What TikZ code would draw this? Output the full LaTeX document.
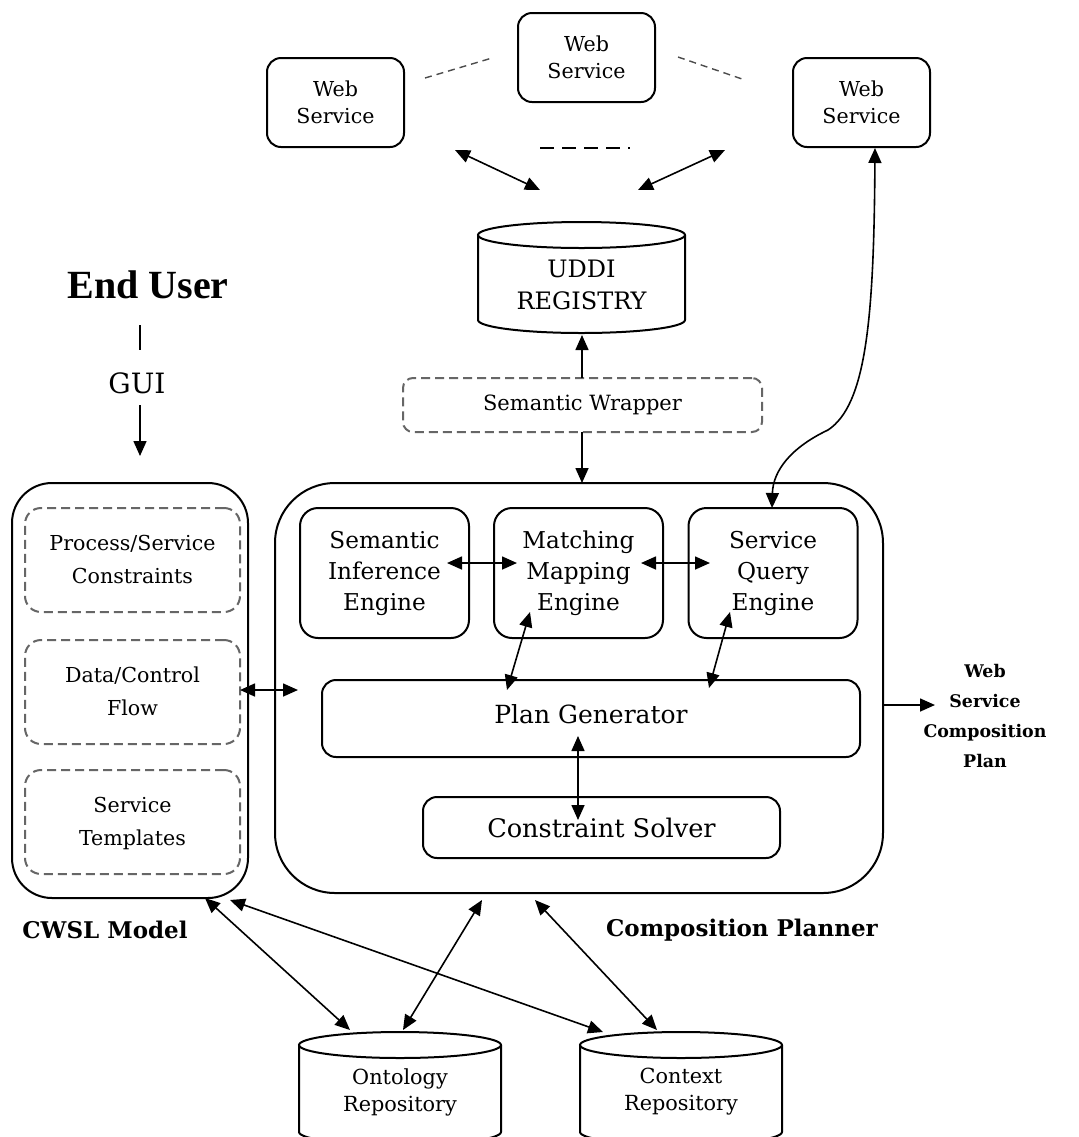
\documentclass[tikz,border=0pt]{standalone}
\usepackage{fontspec}
\setmainfont{DejaVu Serif}
\newfontfamily\timesbold{Liberation Serif}[BoldFont={Liberation Serif Bold}]
\usetikzlibrary{arrows.meta,calc}

% cylinder from its left/top/right/bottom edges, text centred at the given height
% #1 name, #2 left, #3 top, #4 right, #5 bottom, #6 text centre y, #7 font, #8 text
\newcommand\drumnode[8]{%
  \pgfmathsetmacro\drumcx{(#2+#4)/2}%
  \pgfmathsetmacro\drumrx{(#4-#2)/2}%
  \node[drumtext, font=#7] (#1) at (\drumcx,-#6) {#8};
  \draw[line width=1pt] (#2,-#3-13) -- (#2,-#5+13)
     arc[start angle=180,end angle=360,x radius=\drumrx,y radius=13] -- (#4,-#3-13);
  \draw[line width=1pt] (\drumcx,-#3-13) ellipse[x radius=\drumrx,y radius=13];
}
% two centred lines, lifted a little inside their box
\newcommand\liftpair[3]{\raisebox{#1}{\begin{tabular}{@{}c@{}}#2\\#3\end{tabular}}}

\begin{document}
\begin{tikzpicture}[x=0.5pt,y=0.5pt,
  line width=0.8pt,
  tipx/.tip={Triangle[length=7.5pt,width=6.5pt]},
  arr/.style={-tipx},
  darr/.style={tipx-tipx},
  solidbox/.style={draw, line width=1pt, align=center, inner sep=0pt},
  wsbox/.style={solidbox, rounded corners=7pt, minimum width=137*0.5pt, minimum height=89*0.5pt,
     font=\fontsize{10.3}{13.5}\selectfont},
  engine/.style={solidbox, rounded corners=9pt, minimum width=169*0.5pt, minimum height=130*0.5pt,
     font=\fontsize{11.6}{15.5}\selectfont},
  dbox/.style={draw=black!60, line width=1pt, dash pattern=on 4.5pt off 2.5pt, rounded corners=8pt,
     align=center, inner sep=0pt, font=\fontsize{10.3}{16.5}\selectfont},
  drumtext/.style={align=center, inner sep=0pt},
  bigbox/.style={draw, line width=1pt, inner sep=0pt},
  heavy/.style={font=\bfseries\fontsize{11.5}{14}\selectfont}
]
\useasboundingbox[fill=white] (0,0) rectangle (1079,-1137);

% --- web services and registry ---
\node[wsbox] (ws1) at (335.5,-102.5) {Web\\Service};
\node[wsbox] (ws2) at (586.5,-57.5) {Web\\Service};
\node[wsbox] (ws3) at (861.5,-102.5) {Web\\Service};

\coordinate (dl1) at (425,-78);  \coordinate (dl2) at (492,-58);
\coordinate (dr1) at (678,-57);  \coordinate (dr2) at (745,-80);
\coordinate (dm1) at (540,-148); \coordinate (dm2) at (630,-148);
\draw[dash pattern=on 3.5pt off 2.5pt, line width=0.7pt, black!70] (dl1) -- (dl2);
\draw[dash pattern=on 3.5pt off 2.5pt, line width=0.7pt, black!70] (dr1) -- (dr2);
\draw[dash pattern=on 7pt off 4pt, line width=0.8pt] (dm1) -- (dm2);

\coordinate (al1) at (455,-150); \coordinate (al2) at (540,-190);
\coordinate (ar1) at (725,-150); \coordinate (ar2) at (638,-190);
\draw[darr] (al1) -- (al2);
\draw[darr] (ar1) -- (ar2);

\drumnode{uddi}{478}{222}{685}{333}{285}{\fontsize{12}{16}\selectfont}{UDDI\\REGISTRY}

\node[dbox, rounded corners=5pt, minimum width=359*0.5pt, minimum height=54*0.5pt,
      font=\fontsize{10.5}{14}\selectfont] (wrap) at (582.5,-405) {Semantic Wrapper};

% --- end user ---
\node[font=\timesbold\bfseries\fontsize{20}{24}\selectfont] (user) at (148,-285) {End User};
\node[font=\fontsize{14}{16}\selectfont] (gui) at (137,-383) {GUI};
\coordinate (ut1) at (140,-325); \coordinate (ut2) at (140,-350);
\coordinate (ga1) at (140,-405); \coordinate (ga2) at (140,-456);
\draw[line width=0.7pt] (ut1) -- (ut2);
\draw[arr] (ga1) -- (ga2);

% --- CWSL model ---
\node[bigbox, rounded corners=20pt, minimum width=236*0.5pt, minimum height=415*0.5pt] (cwsl) at (130,-690.5) {};
\node[dbox, minimum width=215*0.5pt, minimum height=104*0.5pt] (pc) at (132.5,-560) {\liftpair{3pt}{Process/Service}{Constraints}};
\node[dbox, minimum width=215*0.5pt, minimum height=104*0.5pt] (dc) at (132.5,-692) {\liftpair{3pt}{Data/Control}{Flow}};
\node[dbox, minimum width=215*0.5pt, minimum height=104*0.5pt] (st) at (132.5,-822) {\liftpair{3pt}{Service}{Templates}};
\node[heavy] (cwsllbl) at (105,-930) {CWSL Model};

% --- composition planner ---
\node[bigbox, rounded corners=30pt, minimum width=608*0.5pt, minimum height=410*0.5pt] (planner) at (579,-688) {};
\node[engine] (sie) at (384.5,-573) {Semantic\\Inference\\Engine};
\node[engine] (mme) at (578.5,-573) {Matching\\Mapping\\Engine};
\node[engine] (sqe) at (773,-573) {Service\\Query\\Engine};
\node[solidbox, rounded corners=7pt, minimum width=538*0.5pt, minimum height=77*0.5pt,
      font=\fontsize{12.5}{14}\selectfont] (plan) at (591,-718.5) {\raisebox{5pt}{Plan Generator}};
\node[solidbox, rounded corners=7pt, minimum width=357*0.5pt, minimum height=61*0.5pt,
      font=\fontsize{12.8}{14}\selectfont] (cons) at (601.5,-827.5) {Constraint Solver};
\node[heavy] (complbl) at (742,-930) {Composition Planner};

\node[font=\bfseries\fontsize{8.7}{15}\selectfont, align=center] (out) at (985,-716) {Web\\Service\\Composition\\Plan};

% --- repositories ---
\drumnode{onto}{299}{1032}{501}{1145}{1092}{\fontsize{10.4}{13.5}\selectfont}{Ontology\\Repository}
\drumnode{ctx}{580}{1032}{782}{1145}{1092}{\fontsize{10.4}{13.5}\selectfont}{Context\\Repository}

% --- connectors ---
\coordinate (wrapTop) at (582,-378); \coordinate (uddiBot) at (582,-335);
\draw[arr] (wrapTop) -- (uddiBot);
\coordinate (wrapBot) at (582,-432); \coordinate (planTop) at (582,-483);
\draw[arr] (wrapBot) -- (planTop);

\coordinate (ws3b) at (875,-148); \coordinate (sqet) at (772,-508);
\draw[darr] (ws3b) .. controls (874,-320) and (866,-405) .. (828,-430)
                   .. controls (792,-447) and (773,-470) .. (sqet);

\coordinate (cw1) at (240,-690); \coordinate (cw2) at (298,-690);
\draw[darr] (cw1) -- (cw2);

\coordinate (h1a) at (447,-563); \coordinate (h1b) at (517,-563);
\draw[darr] (h1a) -- (h1b);
\coordinate (h2a) at (641,-563); \coordinate (h2b) at (710,-563);
\draw[darr] (h2a) -- (h2b);

\coordinate (pm1) at (507,-690); \coordinate (pm2) at (530,-612);
\draw[darr] (pm1) -- (pm2);
\coordinate (pq1) at (709,-688); \coordinate (pq2) at (730,-612);
\draw[darr] (pq1) -- (pq2);
\coordinate (pc1) at (578,-736); \coordinate (pc2) at (578,-820);
\draw[darr] (pc1) -- (pc2);

\coordinate (po1) at (883,-705); \coordinate (po2) at (935,-705);
\draw[arr] (po1) -- (po2);

\coordinate (cb1) at (205,-898); \coordinate (ot1) at (350,-1030);
\draw[darr] (cb1) -- (ot1);
\coordinate (cb2) at (230,-900); \coordinate (ct1) at (603,-1032);
\draw[darr] (cb2) -- (ct1);
\coordinate (pb1) at (482,-900); \coordinate (ot2) at (403,-1030);
\draw[darr] (pb1) -- (ot2);
\coordinate (pb2) at (535,-900); \coordinate (ct2) at (657,-1030);
\draw[darr] (pb2) -- (ct2);
\end{tikzpicture}
\end{document}
